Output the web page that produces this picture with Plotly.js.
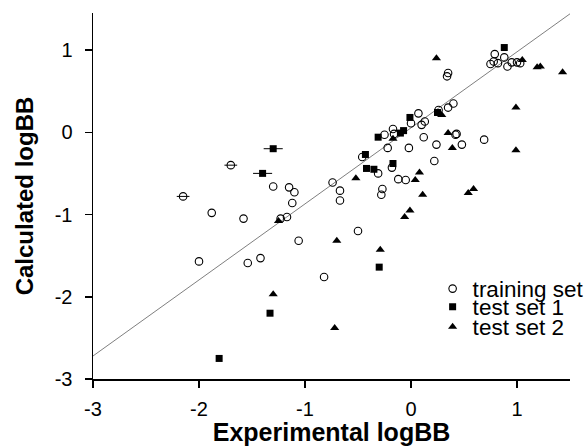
<!DOCTYPE html>
<html>
<head>
<meta charset="utf-8">
<script src="https://cdn.plot.ly/plotly-3.0.1.min.js"></script>
<style>html,body{margin:0;padding:0;background:#fff;}#chart{width:588px;height:446px;}</style>
</head>
<body>
<div id="chart"></div>
<script>
// Training set (open circles); first two carry horizontal error bars
const trainX = [-2.15, -1.70, -1.88, -1.58, -2.00, -1.54, -1.42, -1.30, -1.15, -1.10, -1.12, -1.23, -1.17, -1.06, -0.82,
  -0.74, -0.67, -0.67, -0.50, -0.46, -0.31, -0.18, -0.12, -0.05, 0.22, -0.27, -0.28,
  0.79, 0.78, 0.75, 0.82, 0.88, 0.95, 0.91, 1.00, 1.03, 0.34, 0.35, 0.40, 0.35, 0.26,
  0.07, 0.13, 0.10, 0.00, -0.17, -0.16, -0.25, -0.22, -0.02, 0.12, 0.24, 0.42, 0.43, 0.48, 0.69];
const trainY = [-0.78, -0.40, -0.98, -1.05, -1.57, -1.59, -1.53, -0.66, -0.67, -0.73, -0.86, -1.05, -1.03, -1.32, -1.76,
  -0.61, -0.71, -0.83, -1.20, -0.30, -0.50, -0.43, -0.57, -0.58, -0.35, -0.69, -0.76,
  0.95, 0.86, 0.83, 0.84, 0.91, 0.85, 0.80, 0.85, 0.84, 0.68, 0.72, 0.35, 0.30, 0.27,
  0.23, 0.13, 0.09, 0.11, 0.04, -0.02, -0.03, -0.19, -0.19, -0.06, -0.15, -0.03, -0.02, -0.15, -0.09];
const trainErr = [0.06, 0.06];

// Test set 1 (filled squares); first two carry horizontal error bars
const test1X = [-1.40, -1.30, -1.33, -1.81, -0.43, -0.42, -0.35, -0.30, -0.17, -0.31, -0.07, -0.10, -0.01, 0.25, 0.88];
const test1Y = [-0.50, -0.20, -2.20, -2.75, -0.27, -0.44, -0.45, -1.64, -0.38, -0.06, 0.02, -0.01, 0.18, 0.24, 1.03];
const test1Err = [0.09, 0.09];

// Test set 2 (filled triangles)
const test2X = [-1.25, -1.30, -0.72, -0.70, -0.52, -0.29, 0.08, 0.04, 0.11, -0.01, -0.06, 0.54, 0.59,
  0.24, 0.29, -0.17, 0.35, 0.39, 0.99, 0.99, 1.05, 1.19, 1.22, 1.43];
const test2Y = [-1.08, -1.97, -2.38, -1.32, -0.56, -1.43, -0.49, -0.58, -0.76, -0.95, -1.03, -0.74, -0.69,
  0.90, 0.21, -0.08, -0.01, -0.19, 0.30, -0.22, 0.88, 0.79, 0.80, 0.73];

// Fitted line endpoints
const fitX = [-3.0, 1.5];
const fitY = [-2.72, 1.44];

const names = ['training set', 'test set 1', 'test set 2'];
const xTicks = [-3, -2, -1, 0, 1];
const yTicks = [-3, -2, -1, 0, 1];

const FONT = 'Liberation Sans, Arial, Helvetica, sans-serif';

const data = [
  {x: fitX, y: fitY, mode: 'lines', line: {color: '#707070', width: 0.9}, showlegend: false, hoverinfo: 'skip'},
  {x: trainX, y: trainY, mode: 'markers', name: names[0], legend: 'legend',
   marker: {symbol: 'circle-open', size: 7.5, color: '#000', line: {width: 1.1, color: '#000'}},
   error_x: {type: 'data', array: trainErr, color: '#000', thickness: 1, width: 0}},
  {x: test1X, y: test1Y, mode: 'markers', name: names[1], legend: 'legend2',
   marker: {symbol: 'square', size: 7, color: '#000'},
   error_x: {type: 'data', array: test1Err, color: '#000', thickness: 1, width: 0}},
  {x: test2X, y: test2Y, mode: 'markers', name: names[2], legend: 'legend3',
   marker: {symbol: 'triangle-up', size: 8, color: '#000'}}
];

const legendBase = {xanchor: 'left', yanchor: 'middle', bgcolor: 'rgba(0,0,0,0)', borderwidth: 0,
  font: {family: FONT, size: 22.5, color: '#000'}, x: 0.712};

const layout = {
  width: 588, height: 446,
  margin: {l: 93, r: 18, t: 13, b: 67, autoexpand: false},
  paper_bgcolor: '#fff', plot_bgcolor: '#fff',
  font: {family: FONT, color: '#000'},
  xaxis: {
    range: [-3, 1.5], tickvals: xTicks, ticktext: xTicks.map(String),
    showgrid: false, zeroline: false, showline: true, linecolor: '#000', linewidth: 1.5,
    ticks: 'outside', ticklen: 7, tickwidth: 1.5, tickcolor: '#000',
    tickfont: {family: FONT, size: 20}, ticklabelstandoff: 4, automargin: false,
    title: {text: '<b>Experimental logBB</b>', font: {family: FONT, size: 25}, standoff: 12}
  },
  yaxis: {
    range: [-3, 1.45], tickvals: yTicks, ticktext: yTicks.map(String),
    showgrid: false, zeroline: false, showline: true, linecolor: '#000', linewidth: 1.5,
    ticks: 'outside', ticklen: 7, tickwidth: 1.5, tickcolor: '#000',
    tickfont: {family: FONT, size: 20}, ticklabelstandoff: 8, automargin: false,
    title: {text: '<b>Calculated logBB</b>', font: {family: FONT, size: 24}, standoff: 14}
  },
  legend: Object.assign({}, legendBase, {y: 0.2460}),
  legend2: Object.assign({}, legendBase, {y: 0.1967}),
  legend3: Object.assign({}, legendBase, {y: 0.1420}),
  showlegend: true
};

Plotly.newPlot('chart', data, layout, {staticPlot: true, displayModeBar: false});
</script>
</body>
</html>
